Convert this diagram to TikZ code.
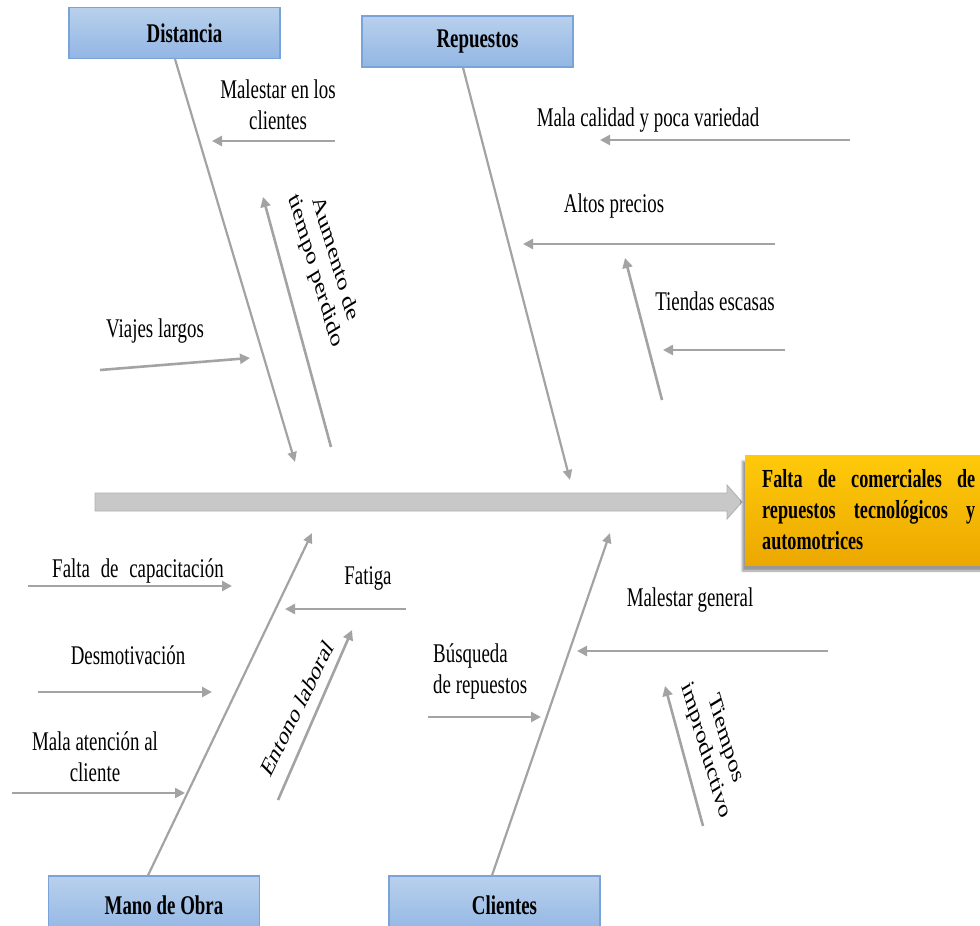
\documentclass[tikz,border=0pt]{standalone}
\usepackage{fontspec}
\setmainfont[FakeStretch=0.7]{Liberation Serif}
\newfontfamily\plainserif{Liberation Serif}
\usetikzlibrary{arrows.meta,shadows.blur}
\definecolor{linegray}{RGB}{163,163,163}
\definecolor{spinefill}{RGB}{200,200,200}
\definecolor{spinedraw}{RGB}{175,175,175}
\definecolor{boxtop}{RGB}{185,208,236}
\definecolor{boxbot}{RGB}{146,182,228}
\definecolor{boxedge}{RGB}{122,163,218}
\definecolor{goldtop}{RGB}{255,202,10}
\definecolor{goldbot}{RGB}{236,168,0}
\begin{document}
\begin{tikzpicture}[x=1pt,y=-1pt,
  lbl/.style={font=\fontsize{27}{31}\selectfont, inner sep=0pt, align=center},
  rlbl/.style={font=\plainserif\fontsize{27}{31}\selectfont, inner sep=0pt, align=center, transform shape},
  catbox/.style={draw=boxedge, line width=1.2pt, top color=boxtop, bottom color=boxbot,
    minimum width=211pt, minimum height=51pt, inner sep=0pt,
    font=\fontsize{27}{31}\selectfont\bfseries},
  bone/.style={draw=linegray, line width=2.2pt, -{Triangle[length=10pt,width=9pt]}},
  sub/.style={draw=linegray, line width=2.6pt, -{Triangle[length=10pt,width=10pt]}},
]
\useasboundingbox (0,0) rectangle (980,926);

% category boxes
\node[catbox] (dist) at (174.5,33) {\hspace*{20pt}Distancia};
\node[catbox] (rep) at (467.5,41.5) {\hspace*{20pt}Repuestos};
\node[catbox, minimum height=58pt] (mano) at (154,905) {\hspace*{20pt}Mano de Obra};
\node[catbox, minimum height=58pt] (cli) at (494.5,905) {\hspace*{20pt}Clientes};

% spine
\fill[spinefill, draw=spinedraw, line width=0.8pt]
  (95,493) -- (727,493) -- (727,485) -- (742,502) -- (727,519) -- (727,511) -- (95,511) -- cycle;

% effect box
\node[anchor=west, top color=goldtop, bottom color=goldbot, minimum height=110pt,
  text width=213pt, inner xsep=17pt, inner ysep=0pt, align=justify,
  blur shadow={shadow xshift=-3pt, shadow yshift=-6pt, shadow blur steps=6},
  font=\fontsize{26}{31}\selectfont\bfseries] (eff) at (745,510)
  {Falta de \mbox{comerciales} de \mbox{repuestos} \mbox{tecnológicos} y \mbox{automotrices}};

% bone end coordinates
\coordinate (distend) at (295,462);
\coordinate (repend) at (570,480);
\coordinate (manoend) at (312,533);
\coordinate (cliend) at (610,533);
\draw[bone] ([xshift=0.5pt]dist.south) -- (distend);
\draw[bone] ([xshift=-4.5pt]rep.south) -- (repend);
\draw[bone] ([xshift=-6pt]mano.north) -- (manoend);
\draw[bone] ([xshift=-2.5pt]cli.north) -- (cliend);

% labels
\node[lbl] (l1) at (278,105) {Malestar en los\\clientes};
\node[lbl] (l3) at (155,331) {Viajes largos};
\node[lbl] (l4) at (648,120) {Mala calidad y poca variedad};
\node[lbl] (l5) at (614,206) {Altos precios};
\node[lbl] (l6) at (715,301) {Tiendas escasas};
\node[lbl] (l7) at (138,571) {Falta\hspace{6pt} de\hspace{6pt} capacitación};
\node[lbl] (l8) at (128,655) {Desmotivación};
\node[lbl] (l9) at (95,757) {Mala atención al\\cliente};
\node[lbl] (l10) at (368,578) {Fatiga};
\node[lbl, align=left, anchor=west] (l12) at (433,671) {Búsqueda\\de repuestos};
\node[lbl] (l13) at (690,600) {Malestar general};

% rotated labels (text rotated, then squeezed horizontally like the rest)
\begin{scope}[shift={(325,265)}, xscale=0.7]
  \node[rlbl, rotate=-67] (l2) at (0,0) {Aumento de\\tiempo perdido};
\end{scope}
\begin{scope}[shift={(297,708)}, xscale=0.7]
  \node[rlbl, rotate=55] (l11) at (0,0) {Entono laboral};
\end{scope}
\begin{scope}[shift={(715,745)}, xscale=0.7]
  \node[rlbl, rotate=-67] (l14) at (0,0) {Tiempos\\improductivo};
\end{scope}

% sub-cause arrow coordinates
\coordinate (a1s) at (335,141); \coordinate (a1e) at (212,141);
\coordinate (a2s) at (331,447); \coordinate (a2e) at (263,197);
\coordinate (a3s) at (100,370); \coordinate (a3e) at (250,358);
\coordinate (a4s) at (850,140); \coordinate (a4e) at (600,140);
\coordinate (a5s) at (775,244); \coordinate (a5e) at (523,244);
\coordinate (a6s) at (785,350); \coordinate (a6e) at (663,350);
\coordinate (a7s) at (662,400); \coordinate (a7e) at (625,258);
\coordinate (a8s) at (28,586);  \coordinate (a8e) at (232,586);
\coordinate (a9s) at (38,692);  \coordinate (a9e) at (212,692);
\coordinate (a10s) at (12,793); \coordinate (a10e) at (185,793);
\coordinate (a11s) at (406,609); \coordinate (a11e) at (285,609);
\coordinate (a12s) at (278,800); \coordinate (a12e) at (352,630);
\coordinate (a13s) at (428,717); \coordinate (a13e) at (541,717);
\coordinate (a14s) at (828,651); \coordinate (a14e) at (577,651);
\coordinate (a15s) at (703,826); \coordinate (a15e) at (665,686);

\foreach \i in {1,...,15} { \draw[sub] (a\i s) -- (a\i e); }
\end{tikzpicture}
\end{document}
